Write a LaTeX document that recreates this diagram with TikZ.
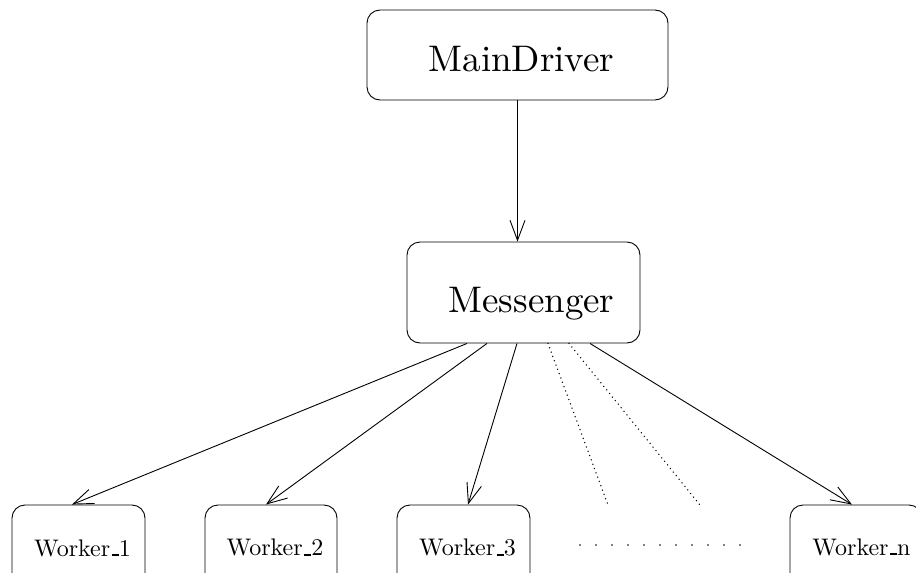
\documentclass[tikz,border=0pt]{standalone}
\usepackage{fontspec}
\setmainfont{lmroman10-regular}[Extension=.otf]
\usetikzlibrary{arrows.meta}
% underscore drawn as a short rule sitting on the baseline
\newcommand\wkbar{\kern.06em\rule{.3em}{.08em}}
\begin{document}
\begin{tikzpicture}[x=1pt,y=-1pt,
  box/.style={draw, line width=0.9pt, rounded corners=13pt, inner sep=0pt},
  bigtext/.style={font=\fontsize{37}{40}\selectfont, anchor=base, inner sep=0pt},
  smalltext/.style={font=\fontsize{24}{28}\selectfont, anchor=base, inner sep=0pt},
  link/.style={line width=0.9pt, -{Straight Barb[length=20pt,width=15pt,line width=0.9pt]}},
  guide/.style={line width=1.5pt, line cap=round, dash pattern=on 0pt off 4.6pt}
]
\useasboundingbox (0,0) rectangle (916,573);

% driver and messenger
\node[box, minimum width=301pt, minimum height=90pt] (md) at (517.5,55) {};
\node[bigtext] (mdlabel) at (521.5,71) {MainDriver};
\node[box, minimum width=233pt, minimum height=101pt] (ms) at (523.5,292.5) {};
\node[bigtext] (mslabel) at (531.5,312) {Messenger};

% workers
\node[box, minimum width=133pt, minimum height=90pt] (w1) at (78.5,550) {};
\node[smalltext] (w1label) at (82.5,556) {Worker\wkbar 1};
\node[box, minimum width=132pt, minimum height=90pt] (w2) at (271,550) {};
\node[smalltext] (w2label) at (275,555.5) {Worker\wkbar 2};
\node[box, minimum width=133pt, minimum height=90pt] (w3) at (463.5,550) {};
\node[smalltext] (w3label) at (467.5,555.5) {Worker\wkbar 3};
\node[box, minimum width=132pt, minimum height=90pt] (wn) at (856,550) {};
\node[smalltext] (wnlabel) at (861.5,555) {Worker\wkbar n};

% connectors
\draw[link] (md.south) -- (md.south |- ms.north);
\draw[link] ([xshift=-56.5pt]ms.south) -- ([xshift=-6.5pt]w1.north);
\draw[link] ([xshift=-36.5pt]ms.south) -- ([xshift=-5pt]w2.north);
\draw[link] ([xshift=-6.5pt]ms.south) -- ([xshift=4.5pt]w3.north);
\draw[link] ([xshift=66.5pt]ms.south) -- ([xshift=-4pt]wn.north);

% elided workers
\coordinate (g1) at (608,505);
\coordinate (g2) at (700,505);
\draw[guide] ([xshift=24.5pt]ms.south) -- (g1);
\draw[guide] ([xshift=45.5pt]ms.south) -- (g2);
\coordinate (rowL) at (580,545);
\coordinate (rowR) at (740.5,545);
\draw[line width=1.8pt, line cap=round, dash pattern=on 0pt off 16pt] (rowL) -- (rowR);
\end{tikzpicture}
\end{document}
